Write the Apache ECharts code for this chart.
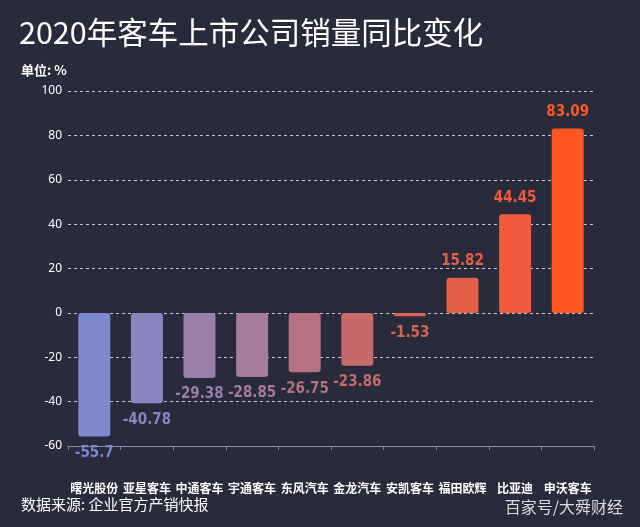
<!DOCTYPE html>
<html><head><meta charset="utf-8">
<script src="https://cdn.jsdelivr.net/npm/echarts@6/dist/echarts.min.js"></script>
<style>html,body{margin:0;padding:0;background:#292a3b;}#c{width:640px;height:527px;}</style>
</head><body><div id="c"></div>
<script>
const categories = ['曙光股份','亚星客车','中通客车','宇通客车','东风汽车','金龙汽车','安凯客车','福田欧辉','比亚迪','申沃客车'];
const values = [-55.7, -40.78, -29.38, -28.85, -26.75, -23.86, -1.53, 15.82, 44.45, 83.09];
const barColors = ['#7d88cf','#8985c0','#9a80a9','#a67b9c','#b5717f','#c66a6c','#d8654f','#e5604a','#ef5b3c','#ff5722'];
const yTicks = [-60, -40, -20, 0, 20, 40, 60, 80, 100];

const chart = echarts.init(document.getElementById('c'));
chart.setOption({
  backgroundColor: '#292a3b',
  animation: false,
  title: [
    {text: '2020年客车上市公司销量同比变化', left: 14, top: 12,
     textStyle: {color: '#ffffff', fontSize: 30.5, fontWeight: 'normal', fontFamily: 'Noto Sans CJK SC'}},
    {text: '单位: %', left: 16, top: 59,
     textStyle: {color: '#ffffff', fontSize: 13, fontWeight: 'bold', fontFamily: 'Noto Sans CJK SC'}},
    {text: '数据来源: 企业官方产销快报', left: 16, top: 492,
     textStyle: {color: '#ffffff', fontSize: 15, fontWeight: 'normal', fontFamily: 'Noto Sans CJK SC'}},
    {text: '百家号/大舜财经', right: 12, top: 494,
     textStyle: {color: '#dddddd', fontSize: 16, fontWeight: 'normal', fontFamily: 'Noto Sans CJK SC'}}
  ],
  grid: {left: 68, right: 46, top: 91, bottom: 81},
  xAxis: {
    type: 'category', data: categories, position: 'bottom',
    axisLine: {onZero: false, lineStyle: {color: '#8a8b99', width: 1}},
    axisTick: {show: true, length: 4, lineStyle: {color: '#8a8b99'}},
    axisLabel: {color: '#ffffff', fontSize: 12, fontWeight: 'bold', fontFamily: 'Noto Sans CJK SC', margin: 36, interval: 0}
  },
  yAxis: {
    type: 'value', min: -60, max: 100, interval: 20,
    axisLine: {show: false},
    axisTick: {show: false},
    axisLabel: {color: '#ffffff', fontSize: 12, fontFamily: 'Noto Sans', margin: 6,
      formatter: v => yTicks.includes(v) ? String(v) : ''},
    splitLine: {show: true, lineStyle: {color: '#c8c8d0', type: [3, 3], width: 1}}
  },
  series: [{
    type: 'bar', barWidth: 32,
    data: values.map((v, i) => ({
      value: v,
      itemStyle: {color: barColors[i], borderRadius: 3},
      label: {show: true, position: v >= 0 ? 'top' : 'bottom', distance: 9,
        color: barColors[i], fontSize: 15, fontWeight: 'bold', fontFamily: 'DejaVu Sans Condensed'}
    }))
  }]
});
</script></body></html>
